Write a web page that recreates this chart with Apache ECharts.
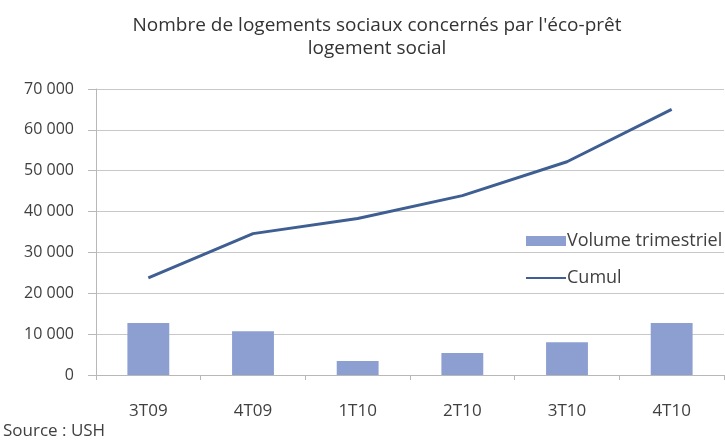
<!DOCTYPE html>
<html>
<head>
<meta charset="utf-8">
<script src="https://cdn.jsdelivr.net/npm/echarts@6/dist/echarts.min.js"></script>
<style>
  html, body { margin: 0; padding: 0; background: #fff; }
  #chart { width: 725px; height: 440px; }
</style>
</head>
<body>
<div id="chart"></div>
<script>
// trimestres
const categories = ['3T09', '4T09', '1T10', '2T10', '3T10', '4T10'];
// valeurs
const volumeTrimestriel = [12700, 10700, 3400, 5400, 8000, 12700];
const cumul = [23800, 34600, 38300, 43900, 52200, 65000];
const yTicks = [0, 10000, 20000, 30000, 40000, 50000, 60000, 70000];

const font = 'Open Sans';
const txt = '#404040';
const gridClr = '#b8b8b8';

const chart = echarts.init(document.getElementById('chart'));
chart.setOption({
  animation: false,
  textStyle: { fontFamily: font },
  title: {
    text: "Nombre de logements sociaux concernés par l'éco-prêt\nlogement social",
    left: 372,
    top: 9,
    textAlign: 'center',
    textStyle: { fontFamily: font, fontSize: 19, fontWeight: 'normal', color: '#333', lineHeight: 23 },
  },
  graphic: [{
    type: 'text',
    left: 3,
    top: 423,
    style: { text: 'Source : USH', font: '17px "Open Sans"', fill: txt },
  }],
  legend: {
    orient: 'vertical',
    left: 520,
    top: 224,
    itemWidth: 40,
    itemHeight: 10,
    itemGap: 13,
    textStyle: { fontFamily: font, fontSize: 18, color: txt, lineHeight: 24, padding: [0, 0, 0, -4] },
    data: [
      { name: 'Volume trimestriel', icon: 'rect' },
      { name: 'Cumul', itemStyle: { opacity: 0 } },
    ],
  },
  grid: { left: 96, right: 1, top: 89, bottom: 65 },
  xAxis: {
    type: 'category',
    data: categories,
    boundaryGap: true,
    axisLine: { lineStyle: { color: gridClr } },
    axisTick: { show: true, length: 5, lineStyle: { color: gridClr } },
    axisLabel: { margin: 28, fontSize: 17, color: txt, fontFamily: font },
  },
  yAxis: {
    type: 'value',
    min: yTicks[0],
    max: yTicks[yTicks.length - 1],
    interval: yTicks[1] - yTicks[0],
    axisLine: { show: true, lineStyle: { color: gridClr } },
    axisTick: { show: true, length: 8, lineStyle: { color: gridClr } },
    splitLine: { lineStyle: { color: '#c8c8c8' } },
    axisLabel: {
      margin: 22,
      fontSize: 16,
      color: txt,
      fontFamily: font,
      formatter: (v) => String(v).replace(/\B(?=(\d{3})+(?!\d))/g, ' '),
    },
  },
  series: [
    {
      name: 'Volume trimestriel',
      type: 'bar',
      data: volumeTrimestriel,
      barWidth: '40%',
      itemStyle: { color: '#8c9fd0' },
    },
    {
      name: 'Cumul',
      type: 'line',
      data: cumul,
      symbol: 'none',
      lineStyle: { color: '#3f5f92', width: 3 },
      itemStyle: { color: '#3f5f92' },
    },
  ],
});
</script>
</body>
</html>
